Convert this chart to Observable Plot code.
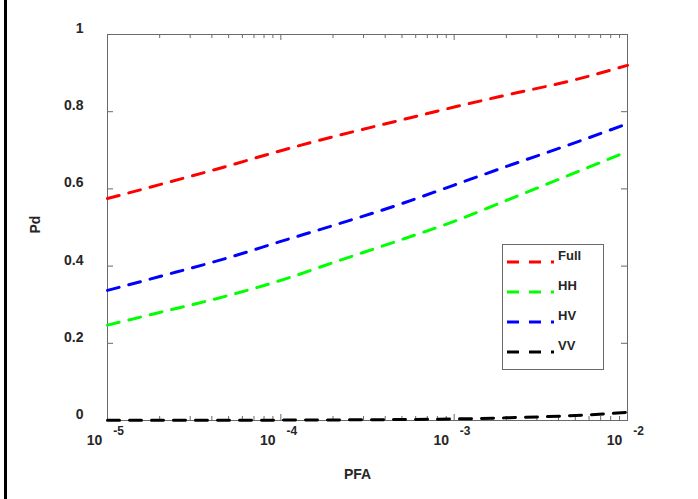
<!DOCTYPE html>
<html>
<head>
<meta charset="utf-8">
<script src="https://cdn.jsdelivr.net/npm/d3@7"></script>
<script src="https://cdn.jsdelivr.net/npm/@observablehq/plot@0.6"></script>
<style>
  html, body { margin: 0; padding: 0; background: #fff; }
  #wrap { position: relative; width: 698px; height: 499px; font-family: Arial, "Liberation Sans", sans-serif; }
  #edge { position: absolute; left: 4px; top: 0; width: 3px; height: 499px; background: #000; }
  #legend { position: absolute; left: 502px; top: 244px; }
</style>
</head>
<body>
<div id="wrap"><div id="edge"></div></div>
<script>
// ---- data ----
const pfa = [1e-5, 2e-5, 5e-5, 1e-4, 2e-4, 5e-4, 1e-3, 2e-3, 5e-3, 1e-2];
const pdFull = [0.575, 0.611, 0.660, 0.699, 0.735, 0.779, 0.812, 0.843, 0.883, 0.920];
const pdHH   = [0.247, 0.280, 0.324, 0.363, 0.409, 0.469, 0.516, 0.570, 0.642, 0.697];
const pdHV   = [0.337, 0.373, 0.422, 0.464, 0.505, 0.562, 0.610, 0.658, 0.720, 0.769];
const pdVV   = [0.0005, 0.0006, 0.0008, 0.001, 0.0015, 0.0025, 0.004, 0.007, 0.013, 0.021];
const seriesNames = ["Full", "HH", "HV", "VV"];
const seriesColors = ["#ff0000", "#00ff00", "#0000ff", "#000000"];
const xTickValues = [1e-5, 1e-4, 1e-3, 1e-2];
const xTickBase = "10";
const xTickExponents = ["-5", "-4", "-3", "-2"];
const yTickValues = [0, 0.2, 0.4, 0.6, 0.8, 1];
const yTickLabels = ["0", "0.2", "0.4", "0.6", "0.8", "1"];
const xLabel = "PFA";
const yLabel = "Pd";

// ---- table ----
const seriesValues = [pdFull, pdHH, pdHV, pdVV];
const rows = [];
seriesNames.forEach((s, i) => pfa.forEach((p, j) => rows.push({series: s, pfa: p, pd: seriesValues[i][j]})));

const W = 698, H = 499, mL = 107, mR = 71, mT = 34, mB = 79;
const plotH = H - mT - mB, plotW = W - mL - mR;
const minorX = d3.scaleLog().domain([1e-5, 1e-2]).ticks().filter(v => !xTickValues.some(t => Math.abs(t - v) / t < 1e-9));
const axisColor = "#6a6a6a";
const textColor = "#262626";
const font = 'Arial, "Liberation Sans", sans-serif';

const chart = Plot.plot({
  width: W, height: H,
  marginLeft: mL, marginRight: mR, marginTop: mT, marginBottom: mB,
  style: {fontFamily: font, background: "transparent"},
  x: {type: "log", domain: [1e-5, 1e-2], axis: null},
  y: {domain: [0, 1], axis: null},
  color: {domain: seriesNames, range: seriesColors},
  marks: [
    // ticks inside the frame
    Plot.tickX(xTickValues, {x: d => d, insetTop: plotH - 6, stroke: axisColor}),
    Plot.tickX(xTickValues, {x: d => d, insetBottom: plotH - 6, stroke: axisColor}),
    Plot.tickX(minorX, {x: d => d, insetTop: plotH - 4, stroke: axisColor}),
    Plot.tickX(minorX, {x: d => d, insetBottom: plotH - 4, stroke: axisColor}),
    Plot.tickY(yTickValues, {y: d => d, insetRight: plotW - 6, stroke: axisColor}),
    Plot.tickY(yTickValues, {y: d => d, insetLeft: plotW - 6, stroke: axisColor}),
    Plot.frame({stroke: axisColor, strokeWidth: 1}),
    // curves
    Plot.line(rows, {x: "pfa", y: "pd", z: "series", stroke: "series", strokeWidth: 3,
      strokeDasharray: "12,10", curve: "monotone-x"}),
    // tick labels
    Plot.text(xTickValues, {x: d => d, text: () => xTickBase, frameAnchor: "bottom", dy: 24, dx: -13,
      fontSize: 14, fontWeight: "bold", fill: textColor}),
    Plot.text(xTickValues, {x: d => d, text: (d, i) => xTickExponents[i], frameAnchor: "bottom", dy: 14, dx: 11,
      fontSize: 12, fontWeight: "bold", fill: textColor}),
    Plot.text(yTickValues, {y: d => d, text: (d, i) => yTickLabels[i], frameAnchor: "left", textAnchor: "end",
      dx: -24, dy: -6, fontSize: 14, fontWeight: "bold", fill: textColor}),
    // axis labels
    Plot.text([xLabel], {text: d => d, frameAnchor: "bottom", dy: 58, dx: -10, fontSize: 14, fontWeight: "bold", fill: textColor}),
    Plot.text([yLabel], {text: d => d, frameAnchor: "left", dx: -72, dy: 6, rotate: -90, fontSize: 14, fontWeight: "bold", fill: textColor})
  ]
});
document.getElementById("wrap").appendChild(chart);

// ---- legend (overlay) ----
const lg = d3.select("#wrap").append("svg").attr("id", "legend").attr("width", 103).attr("height", 127);
lg.append("rect").attr("x", 0.5).attr("y", 0.5).attr("width", 101).attr("height", 125)
  .attr("fill", "#fff").attr("stroke", axisColor);
seriesNames.forEach((s, i) => {
  const y = 18 + i * 30;
  lg.append("line").attr("x1", 5).attr("x2", 52).attr("y1", y).attr("y2", y)
    .attr("stroke", seriesColors[i]).attr("stroke-width", 3).attr("stroke-dasharray", "12,10");
  lg.append("text").attr("x", 56).attr("y", y - 7).attr("dy", "0.35em")
    .attr("font-family", font).attr("font-size", 13).attr("font-weight", "bold").attr("fill", textColor).text(s);
});
</script>
</body>
</html>
